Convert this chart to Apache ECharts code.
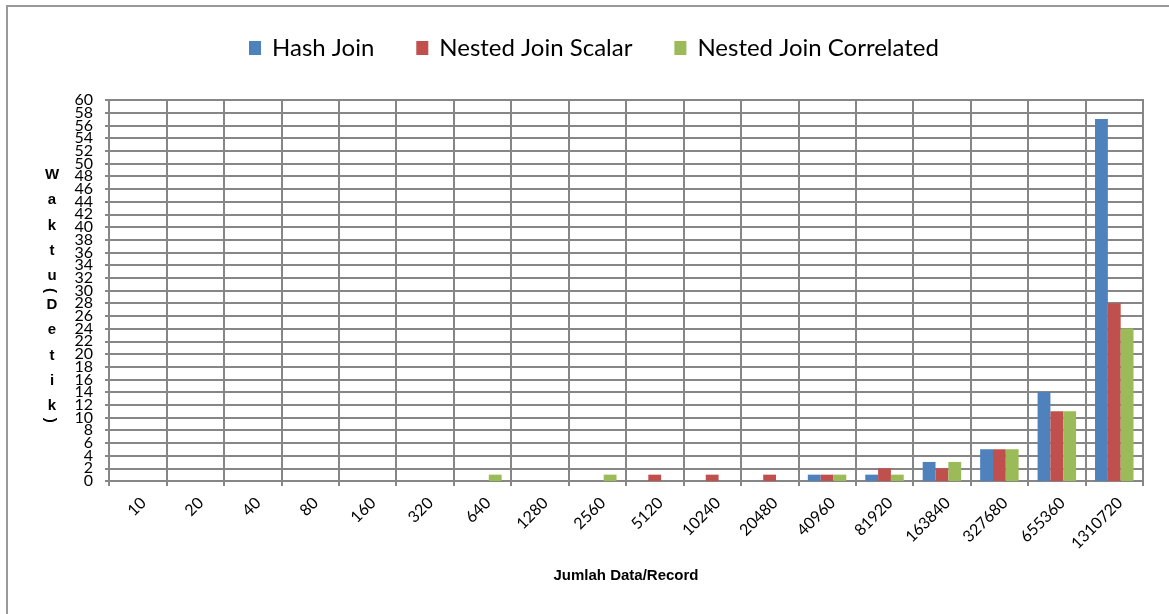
<!DOCTYPE html>
<html>
<head>
<meta charset="utf-8">
<script src="https://cdn.jsdelivr.net/npm/echarts@6/dist/echarts.min.js"></script>
<style>
  html, body { margin: 0; padding: 0; background: #fff; }
  #chart { width: 1169px; height: 614px; }
</style>
</head>
<body>
<div id="chart"></div>
<script>
// Record counts on the x axis
const categories = ['10', '20', '40', '80', '160', '320', '640', '1280', '2560', '5120',
  '10240', '20480', '40960', '81920', '163840', '327680', '655360', '1310720'];

// Execution time in seconds per join method
const hashJoin =         [0, 0, 0, 0, 0, 0, 0, 0, 0, 0, 0, 0, 1, 1, 3, 5, 14, 57];
const nestedScalar =     [0, 0, 0, 0, 0, 0, 0, 0, 0, 1, 1, 1, 1, 2, 2, 5, 11, 28];
const nestedCorrelated = [0, 0, 0, 0, 0, 0, 1, 0, 1, 0, 0, 0, 1, 1, 3, 5, 11, 24];

const seriesNames = ['Hash Join', 'Nested Join Scalar', 'Nested Join Correlated'];
const yTitle = 'Waktu(Detik)';
const xTitle = 'Jumlah Data/Record';

const colors = ['#4F81BD', '#C0504D', '#9BBB59'];
const gridColor = '#868686';
const baseFont = 'Lato, "Open Sans", sans-serif';
const boldFont = '"Liberation Sans", Arial, sans-serif';

// Vertical, stacked y-axis title; parentheses are turned a quarter clockwise
const titleGraphics = [];
let ty = 175;
let prevParen = false;
yTitle.split('').forEach((ch, i) => {
  const isParen = ch === '(' || ch === ')';
  if (i > 0) ty += (isParen || prevParen) ? 14.3 : 25.3;
  titleGraphics.push({
    type: 'text',
    x: isParen ? 50 : 52,
    y: ty,
    rotation: isParen ? -Math.PI / 2 : 0,
    style: {
      text: ch,
      fill: '#000',
      font: 'bold 15px ' + boldFont,
      align: 'center',
      verticalAlign: 'middle'
    }
  });
  prevParen = isParen;
});

// The y ticks are packed tightly; labels are split over two overlaid axes
// (multiples of 4 on one, the rest on the other) so none get auto-hidden.
const yLabelStyle = { fontSize: 16, fontFamily: baseFont, color: '#000', margin: 16 };
const yBase = { type: 'value', min: 0, max: 60, interval: 2, position: 'left' };

const chart = echarts.init(document.getElementById('chart'));
chart.setOption({
  backgroundColor: '#fff',
  animation: false,
  color: colors,
  legend: {
    top: 31,
    left: 244,
    icon: 'rect',
    itemWidth: 12,
    itemHeight: 14,
    itemGap: 42,
    textStyle: { fontSize: 24, fontFamily: baseFont, color: '#000', padding: [0, 0, 0, 6] },
    data: seriesNames
  },
  grid: { left: 109, right: 26, top: 100, bottom: 133, show: true, borderColor: gridColor, borderWidth: 2 },
  xAxis: {
    type: 'category',
    data: categories,
    axisLine: { lineStyle: { color: gridColor, width: 2 } },
    axisTick: { show: true, length: 5, lineStyle: { color: gridColor, width: 2 } },
    splitLine: { show: true, lineStyle: { color: gridColor, width: 2 } },
    axisLabel: {
      rotate: 45,
      margin: 25,
      fontSize: 16,
      fontFamily: baseFont,
      color: '#000',
      interval: 0,
      padding: [0, -8, 0, 0]
    },
    name: xTitle,
    nameLocation: 'middle',
    nameGap: 87,
    nameTextStyle: { fontSize: 15, fontWeight: 'bold', fontFamily: boldFont, color: '#000' }
  },
  yAxis: [
    Object.assign({}, yBase, {
      axisLine: { show: true, lineStyle: { color: gridColor, width: 2 } },
      axisTick: { show: true, length: 4, lineStyle: { color: gridColor, width: 2 } },
      splitLine: { show: true, lineStyle: { color: gridColor, width: 2 } },
      axisLabel: Object.assign({}, yLabelStyle, {
        showMinLabel: true, showMaxLabel: true,
        formatter: v => (v % 4 === 0 ? String(v) : '')
      })
    }),
    Object.assign({}, yBase, {
      axisLine: { show: false },
      axisTick: { show: false },
      splitLine: { show: false },
      axisLabel: Object.assign({}, yLabelStyle, {
        showMinLabel: false, showMaxLabel: false,
        formatter: v => (v % 4 === 2 ? String(v) : '')
      })
    })
  ],
  graphic: [
    {
      type: 'rect',
      shape: { x: 7, y: 6, width: 1200, height: 700 },
      style: { fill: 'none', stroke: '#999', lineWidth: 2 },
      silent: true
    },
    ...titleGraphics
  ],
  series: [
    { name: seriesNames[0], type: 'bar', data: hashJoin, barGap: '0%', barCategoryGap: '33%' },
    { name: seriesNames[1], type: 'bar', data: nestedScalar, barGap: '0%', barCategoryGap: '33%' },
    { name: seriesNames[2], type: 'bar', data: nestedCorrelated, barGap: '0%', barCategoryGap: '33%' }
  ]
});
</script>
</body>
</html>
